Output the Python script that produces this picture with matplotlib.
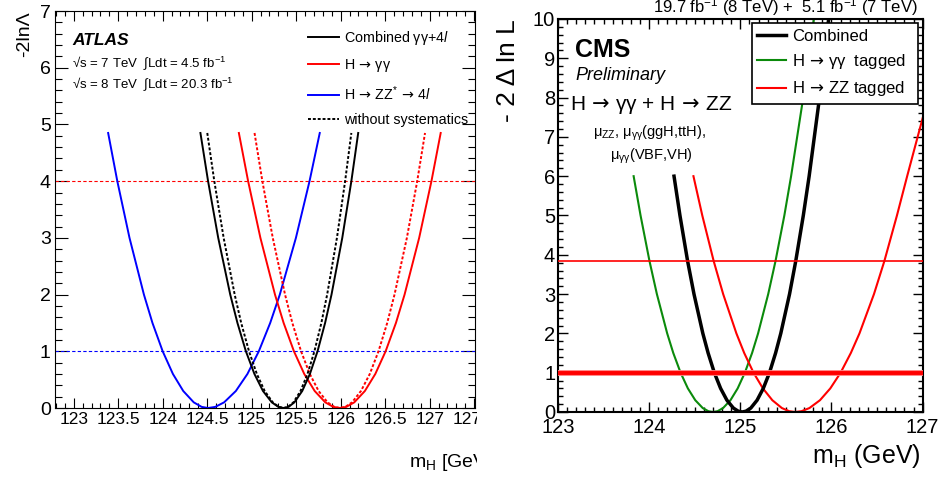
import matplotlib
matplotlib.use("Agg")
import matplotlib.pyplot as plt
from matplotlib.lines import Line2D
from matplotlib.patches import Rectangle
from matplotlib.ticker import FixedLocator, MultipleLocator

REGULAR = ["Liberation Sans", "DejaVu Sans"]

plt.rcParams["font.family"] = REGULAR
plt.rcParams["mathtext.fontset"] = "custom"
plt.rcParams["mathtext.rm"] = "Liberation Sans"
plt.rcParams["mathtext.it"] = "Liberation Sans:italic"
plt.rcParams["mathtext.bf"] = "Liberation Sans:bold"
plt.rcParams["mathtext.sf"] = "DejaVu Sans"

# arrow taken from DejaVu (bigger than the Liberation one), with thin gaps
ARROW = "$\\,\\mathsf{\\rightarrow}\\,$"

# ---- ATLAS panel: -2lnL scans ----
ATLAS_Y = [4.85, 4, 3, 2, 1.5, 1, 0.6, 0.3, 0.1, 0.02, 0,
           0.02, 0.1, 0.3, 0.6, 1, 1.5, 2, 3, 4, 4.85]
ATLAS_COMB_X = [124.424, 124.51, 124.624, 124.759, 124.840, 124.935, 125.031,
                125.127, 125.226, 125.300, 125.36, 125.414, 125.480, 125.568,
                125.654, 125.74, 125.825, 125.897, 126.018, 126.12, 126.197]
ATLAS_COMB_NOSYS_X = [124.501, 124.58, 124.685, 124.809, 124.882, 124.97, 125.058,
                      125.146, 125.237, 125.305, 125.36, 125.409, 125.469, 125.549,
                      125.627, 125.705, 125.783, 125.848, 125.958, 126.05, 126.120]
ATLAS_GG_X = [124.856, 124.96, 125.098, 125.262, 125.359, 125.475, 125.591,
              125.708, 125.827, 125.917, 125.99, 126.063, 126.153, 126.272,
              126.389, 126.505, 126.621, 126.718, 126.882, 127.02, 127.124]
ATLAS_GG_NOSYS_X = [125.032, 125.12, 125.237, 125.375, 125.457, 125.555, 125.653,
                    125.752, 125.852, 125.929, 125.99, 126.052, 126.128, 126.228,
                    126.327, 126.425, 126.523, 126.605, 126.744, 126.86, 126.948]
ATLAS_ZZ_X = [123.387, 123.49, 123.627, 123.789, 123.885, 124.0, 124.115,
              124.231, 124.349, 124.438, 124.51, 124.591, 124.69, 124.822,
              124.952, 125.08, 125.208, 125.316, 125.497, 125.65, 125.765]
ATLAS_XTICKS = [123, 123.5, 124, 124.5, 125, 125.5, 126, 126.5, 127, 127.5]
ATLAS_XTICKLABELS = ["123", "123.5", "124", "124.5", "125", "125.5",
                     "126", "126.5", "127", "127.5"]
ATLAS_LEGEND = ["Combined γγ+4$\\mathit{l}$",
                "H" + ARROW + "γγ",
                "H" + ARROW + "ZZ$^{*}$" + ARROW + "4$\\mathit{l}$",
                "without systematics"]

# ---- CMS panel ----
CMS_GREEN_X = [123.830, 123.906, 124.004, 124.085, 124.198, 124.265, 124.345,
               124.425, 124.506, 124.588, 124.650, 124.70, 124.750, 124.811,
               124.892, 124.971, 125.05, 125.129, 125.195, 125.306, 125.386,
               125.483, 125.557, 125.690, 125.807]
CMS_GREEN_Y = [6, 5, 3.84, 3, 2, 1.5, 1, 0.6, 0.3, 0.1, 0.02, 0,
               0.02, 0.1, 0.3, 0.6, 1, 1.5, 2, 3, 3.84, 5, 6, 8, 10]
CMS_BLACK_X = [124.273, 124.338, 124.422, 124.492, 124.589, 124.647, 124.715,
               124.784, 124.853, 124.924, 124.977, 125.02, 125.062, 125.115,
               125.184, 125.252, 125.32, 125.387, 125.444, 125.540, 125.608,
               125.691, 125.755, 125.869, 125.969]
CMS_BLACK_Y = [6, 5, 3.84, 3, 2, 1.5, 1, 0.6, 0.3, 0.1, 0.02, 0,
               0.02, 0.1, 0.3, 0.6, 1, 1.5, 2, 3, 3.84, 5, 6, 8, 10]
CMS_RED_X = [124.486, 124.583, 124.708, 124.812, 124.957, 125.043, 125.145,
             125.248, 125.351, 125.456, 125.536, 125.60, 125.671, 125.758,
             125.874, 125.987, 126.10, 126.212, 126.307, 126.466, 126.580,
             126.718, 126.83, 127.06]
CMS_RED_Y = [6, 5, 3.84, 3, 2, 1.5, 1, 0.6, 0.3, 0.1, 0.02, 0,
             0.02, 0.1, 0.3, 0.6, 1, 1.5, 2, 3, 3.84, 5, 6, 8]
CMS_LEGEND = ["Combined", "H" + ARROW + "γγ  tagged", "H" + ARROW + "ZZ tagged"]
CMS_GREEN = "#0b8a0b"

fig = plt.figure(figsize=(9.39, 4.78), dpi=100)
ax1 = fig.add_axes([0.0586, 0.1464, 0.4473, 0.8305])
ax2 = fig.add_axes([0.5942, 0.1381, 0.3884, 0.8222])

# ================= ATLAS =================
dash = (0, (1.5, 1.0))
ax1.axhline(4, color="red", lw=0.8, ls=(0, (3, 2)))
ax1.axhline(1, color="blue", lw=0.8, ls=(0, (3, 2)))
ax1.plot(ATLAS_ZZ_X, ATLAS_Y, color="blue", lw=1.4)
ax1.plot(ATLAS_GG_NOSYS_X, ATLAS_Y, color="red", lw=1.4, ls=dash)
ax1.plot(ATLAS_GG_X, ATLAS_Y, color="red", lw=1.4)
ax1.plot(ATLAS_COMB_NOSYS_X, ATLAS_Y, color="black", lw=1.4, ls=dash)
ax1.plot(ATLAS_COMB_X, ATLAS_Y, color="black", lw=1.4)

ax1.set_xlim(122.79, 127.51)
ax1.set_ylim(0, 7)
ax1.xaxis.set_major_locator(FixedLocator(ATLAS_XTICKS))
ax1.set_xticklabels(ATLAS_XTICKLABELS)
ax1.xaxis.set_minor_locator(MultipleLocator(0.1))
ax1.yaxis.set_major_locator(MultipleLocator(1))
ax1.yaxis.set_minor_locator(MultipleLocator(0.2))
ax1.tick_params(which="both", direction="in", top=True, right=True, width=0.8)
ax1.tick_params(axis="x", which="major", length=7.2, pad=3, labelsize=12.5)
ax1.tick_params(axis="x", which="minor", length=3.6)
ax1.tick_params(axis="y", which="major", length=9.4, pad=3, labelsize=14)
ax1.tick_params(axis="y", which="minor", length=5)
for sp in ax1.spines.values():
    sp.set_linewidth(0.8)

ax1.set_ylabel("-2lnΛ", loc="top", fontsize=14)
ax1.yaxis.set_label_coords(-0.052, 1.0)
ax1.set_xlabel("m$_{\\mathrm{H}}$ [GeV]", fontsize=14)
ax1.xaxis.set_label_coords(1.04, -0.112)
ax1.xaxis.label.set_horizontalalignment("right")

ax1.text(0.0405, 0.914, "ATLAS", transform=ax1.transAxes, fontsize=12.5,
         fontweight="bold", fontstyle="italic")
ax1.text(0.0405, 0.859, "√s = 7 TeV  ∫Ldt = 4.5 fb$^{-1}$",
         transform=ax1.transAxes, fontsize=9.5)
ax1.text(0.0405, 0.806, "√s = 8 TeV  ∫Ldt = 20.3 fb$^{-1}$",
         transform=ax1.transAxes, fontsize=9.5)

h1 = [Line2D([], [], color="black", lw=1.4),
      Line2D([], [], color="red", lw=1.4),
      Line2D([], [], color="blue", lw=1.4),
      Line2D([], [], color="black", lw=1.4, ls=dash)]
ax1.legend(h1, ATLAS_LEGEND, loc="upper left", bbox_to_anchor=(0.602, 0.955),
           frameon=False, fontsize=10.3, handlelength=2.2, handletextpad=0.35,
           labelspacing=0.7, borderpad=0, borderaxespad=0)

# ================= CMS =================
ax2.plot(CMS_GREEN_X, CMS_GREEN_Y, color=CMS_GREEN, lw=1.5)
ax2.plot(CMS_RED_X, CMS_RED_Y, color="red", lw=1.5)
ax2.plot(CMS_BLACK_X, CMS_BLACK_Y, color="black", lw=2.5)
ax2.axhline(3.84, color="red", lw=1.2, zorder=3)
ax2.axhline(1, color="#ff8080", lw=4.2, zorder=3)
ax2.axhline(1, color="red", lw=2.8, zorder=3)

ax2.set_xlim(123, 127)
ax2.set_ylim(0, 10)
ax2.xaxis.set_major_locator(MultipleLocator(1))
ax2.xaxis.set_minor_locator(MultipleLocator(0.1))
ax2.yaxis.set_major_locator(MultipleLocator(1))
ax2.yaxis.set_minor_locator(MultipleLocator(0.2))
ax2.tick_params(which="both", direction="in", top=True, right=True, width=1.0)
ax2.tick_params(which="major", length=7, labelsize=14.5)
ax2.tick_params(which="minor", length=3.6)
ax2.tick_params(axis="x", which="major", pad=4)
ax2.tick_params(axis="y", which="major", pad=2)
for sp in ax2.spines.values():
    sp.set_linewidth(1.5)

ax2.set_ylabel("- 2 Δ ln L", loc="top", fontsize=19)
ax2.yaxis.set_label_coords(-0.104, 1.0)
ax2.set_xlabel("m$_{\\mathrm{H}}$ (GeV)", fontsize=18)
ax2.xaxis.set_label_coords(0.995, -0.076)
ax2.xaxis.label.set_horizontalalignment("right")

ax2.text(0.987, 1.018, "19.7 fb$^{-1}$ (8 TeV) +  5.1 fb$^{-1}$ (7 TeV)",
         transform=ax2.transAxes, ha="right", va="baseline", fontsize=12)
ax2.text(0.0466, 0.903, "CMS", transform=ax2.transAxes, fontsize=18,
         fontweight="bold")
ax2.text(0.0466, 0.845, "Preliminary", transform=ax2.transAxes, fontsize=13,
         fontstyle="italic")
ax2.text(0.033, 0.768, "H" + ARROW + "γγ + H" + ARROW + "ZZ",
         transform=ax2.transAxes, fontsize=15)
ax2.text(0.096, 0.70, "μ$_{\\mathrm{ZZ}}$, μ$_{\\mathrm{γγ}}$(ggH,ttH),",
         transform=ax2.transAxes, fontsize=10.5)
ax2.text(0.1426, 0.641, "μ$_{\\mathrm{γγ}}$(VBF,VH)",
         transform=ax2.transAxes, fontsize=10.5)

h2 = [Line2D([], [], color="black", lw=2.5),
      Line2D([], [], color=CMS_GREEN, lw=1.5),
      Line2D([], [], color="red", lw=1.5)]
leg = ax2.legend(h2, CMS_LEGEND, loc="upper left",
                 bbox_to_anchor=(0.531, 0.794, 0.456, 0.196), mode="expand",
                 fontsize=12, handlelength=1.7, handletextpad=0.4,
                 labelspacing=0.5, borderpad=0.35, borderaxespad=0,
                 fancybox=False, edgecolor="black", framealpha=1)
leg.get_frame().set_linewidth(1.2)

# the left picture is cut off at its right edge in the reference
fig.add_artist(Rectangle((477 / 939, 0), 19 / 939, 1, transform=fig.transFigure,
                         facecolor="white", edgecolor="none", zorder=10))

fig.savefig("out.png", dpi=100)
